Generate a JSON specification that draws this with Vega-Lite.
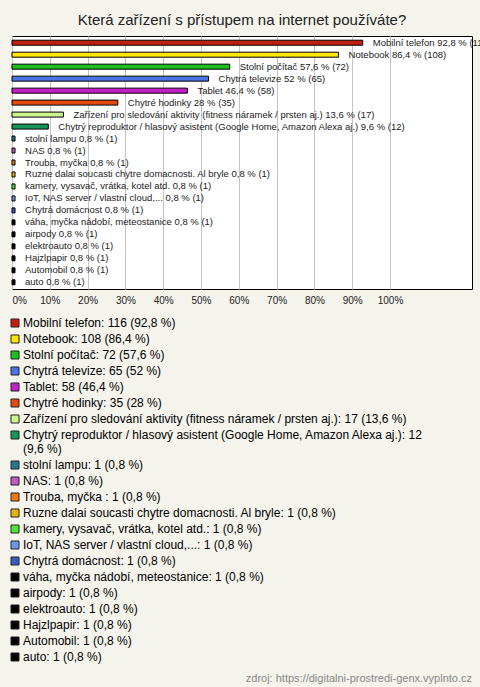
{
  "$schema": "https://vega.github.io/schema/vega-lite/v6.json",
  "background": "#f4f3ec",
  "padding": {"left": 11, "top": 12, "right": 9, "bottom": 5},
  "spacing": 9,
  "resolve": {"legend": {"color": "independent"}},
  "config": {
    "font": "Liberation Sans",
    "view": {"stroke": "#000000", "strokeWidth": 1, "fill": "#ffffff"}
  },
  "vconcat": [
    {
      "title": {
        "text": "Která zařízení s přístupem na internet používáte?",
        "fontSize": 15,
        "fontWeight": "normal",
        "color": "#222222",
        "frame": "group",
        "anchor": "middle",
        "offset": 8
      },
      "width": 460,
      "height": 253,
      "data": {
        "values": [
          {"label": "Mobilní telefon 92,8 % (116)", "legend": "Mobilní telefon: 116 (92,8 %)", "pct": 92.8},
          {"label": "Notebook 86,4 % (108)", "legend": "Notebook: 108 (86,4 %)", "pct": 86.4},
          {"label": "Stolní počítač 57,6 % (72)", "legend": "Stolní počítač: 72 (57,6 %)", "pct": 57.6},
          {"label": "Chytrá televize 52 % (65)", "legend": "Chytrá televize: 65 (52 %)", "pct": 52},
          {"label": "Tablet 46,4 % (58)", "legend": "Tablet: 58 (46,4 %)", "pct": 46.4},
          {"label": "Chytré hodinky 28 % (35)", "legend": "Chytré hodinky: 35 (28 %)", "pct": 28},
          {"label": "Zařízení pro sledování aktivity (fitness náramek / prsten aj.) 13,6 % (17)", "legend": "Zařízení pro sledování aktivity (fitness náramek / prsten aj.): 17 (13,6 %)", "pct": 13.6},
          {"label": "Chytrý reproduktor / hlasový asistent (Google Home, Amazon Alexa aj.) 9,6 % (12)", "legend": "Chytrý reproduktor / hlasový asistent (Google Home, Amazon Alexa aj.): 12|(9,6 %)", "pct": 9.6},
          {"label": "stolní lampu 0,8 % (1)", "legend": "stolní lampu: 1 (0,8 %)", "pct": 0.8},
          {"label": "NAS 0,8 % (1)", "legend": "NAS: 1 (0,8 %)", "pct": 0.8},
          {"label": "Trouba, myčka  0,8 % (1)", "legend": "Trouba, myčka : 1 (0,8 %)", "pct": 0.8},
          {"label": "Ruzne dalai soucasti chytre domacnosti. Al bryle 0,8 % (1)", "legend": "Ruzne dalai soucasti chytre domacnosti. Al bryle: 1 (0,8 %)", "pct": 0.8},
          {"label": "kamery, vysavač, vrátka, kotel atd. 0,8 % (1)", "legend": "kamery, vysavač, vrátka, kotel atd.: 1 (0,8 %)", "pct": 0.8},
          {"label": "IoT, NAS server / vlastní cloud,... 0,8 % (1)", "legend": "IoT, NAS server / vlastní cloud,...: 1 (0,8 %)", "pct": 0.8},
          {"label": "Chytrá domácnost 0,8 % (1)", "legend": "Chytrá domácnost: 1 (0,8 %)", "pct": 0.8},
          {"label": "váha, myčka nádobí, meteostanice 0,8 % (1)", "legend": "váha, myčka nádobí, meteostanice: 1 (0,8 %)", "pct": 0.8},
          {"label": "airpody 0,8 % (1)", "legend": "airpody: 1 (0,8 %)", "pct": 0.8},
          {"label": "elektroauto 0,8 % (1)", "legend": "elektroauto: 1 (0,8 %)", "pct": 0.8},
          {"label": "Hajzlpapir 0,8 % (1)", "legend": "Hajzlpapir: 1 (0,8 %)", "pct": 0.8},
          {"label": "Automobil 0,8 % (1)", "legend": "Automobil: 1 (0,8 %)", "pct": 0.8},
          {"label": "auto 0,8 % (1)", "legend": "auto: 1 (0,8 %)", "pct": 0.8}
        ]
      },
      "encoding": {
        "y": {"field": "label", "type": "nominal", "sort": null, "axis": null,
              "scale": {"paddingInner": 0, "paddingOuter": 0.06}},
        "x": {"field": "pct", "type": "quantitative",
              "scale": {"domain": [0, 121.7], "nice": false, "zero": true},
              "axis": {"values": [0,10,20,30,40,50,60,70,80,90,100],
                       "labelExpr": "datum.value + '%'",
                       "grid": true, "gridColor": "#c4c4c4", "gridWidth": 1,
                       "domain": false, "ticks": false, "tickSize": 0,
                       "labelFontSize": 10, "labelColor": "#222222",
                       "labelPadding": 6, "labelFlush": true, "title": null}}
      },
      "layer": [
        {
          "mark": {"type": "bar", "height": 5, "stroke": "#000000", "strokeWidth": 1},
          "encoding": {
            "color": {"field": "legend", "type": "nominal",
              "scale": {
                "domain": [
                  "Mobilní telefon: 116 (92,8 %)", "Notebook: 108 (86,4 %)", "Stolní počítač: 72 (57,6 %)",
                  "Chytrá televize: 65 (52 %)", "Tablet: 58 (46,4 %)", "Chytré hodinky: 35 (28 %)",
                  "Zařízení pro sledování aktivity (fitness náramek / prsten aj.): 17 (13,6 %)",
                  "Chytrý reproduktor / hlasový asistent (Google Home, Amazon Alexa aj.): 12|(9,6 %)",
                  "stolní lampu: 1 (0,8 %)", "NAS: 1 (0,8 %)", "Trouba, myčka : 1 (0,8 %)",
                  "Ruzne dalai soucasti chytre domacnosti. Al bryle: 1 (0,8 %)",
                  "kamery, vysavač, vrátka, kotel atd.: 1 (0,8 %)",
                  "IoT, NAS server / vlastní cloud,...: 1 (0,8 %)", "Chytrá domácnost: 1 (0,8 %)",
                  "váha, myčka nádobí, meteostanice: 1 (0,8 %)", "airpody: 1 (0,8 %)",
                  "elektroauto: 1 (0,8 %)", "Hajzlpapir: 1 (0,8 %)", "Automobil: 1 (0,8 %)", "auto: 1 (0,8 %)"
                ],
                "range": [
                  "#c41e0e", "#ffe600", "#1fbf1f", "#4b73e6", "#c41ec8", "#e4480e", "#ccf590",
                  "#17955a", "#237a8c", "#c45ac4", "#ec7812", "#e8b40c", "#4ee63a", "#6e98e6",
                  "#3a5cc0", "#000000", "#000000", "#000000", "#000000", "#000000", "#000000"
                ]
              },
              "legend": {
                "orient": "bottom", "direction": "vertical", "title": null,
                "symbolType": "square", "symbolSize": 64, "symbolOffset": -3,
                "symbolStrokeColor": "#222222", "symbolStrokeWidth": 1, "symbolOpacity": 1,
                "labelFontSize": 12, "labelColor": "#000000", "labelLimit": 0,
                "labelOffset": 2, "rowPadding": 4, "offset": 12, "padding": 0,
                "labelExpr": "split(datum.label, '|')"
              }
            }
          }
        },
        {
          "mark": {"type": "text", "align": "left", "baseline": "middle", "dx": 10,
                   "fontSize": 9.5, "color": "#222222"},
          "encoding": {"text": {"field": "label", "type": "nominal"}}
        }
      ]
    },
    {
      "width": 460,
      "height": 12,
      "view": {"stroke": null, "fill": null},
      "data": {"values": [{"source": "zdroj: https://digitalni-prostredi-genx.vyplnto.cz"}]},
      "mark": {"type": "text", "align": "right", "baseline": "middle", "fontSize": 11, "color": "#888888"},
      "encoding": {
        "text": {"field": "source", "type": "nominal"},
        "x": {"value": "width"}
      }
    }
  ]
}
